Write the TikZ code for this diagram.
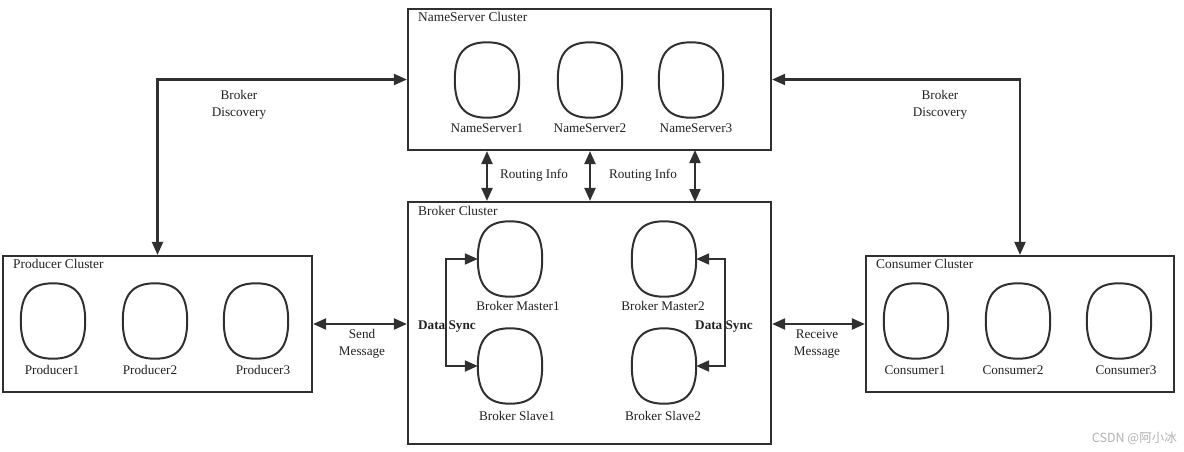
\documentclass[tikz,border=0pt]{standalone}
\usepackage{fontspec}
\setmainfont{Liberation Serif}
\newfontfamily\cjk{Noto Sans CJK SC}
\usetikzlibrary{arrows.meta,calc}
\definecolor{ln}{HTML}{303030}
\definecolor{tx}{HTML}{222222}
\begin{document}
\begin{tikzpicture}[x=1pt,y=-1pt,
  every node/.style={font=\fontsize{13.2}{15}\selectfont, text=tx, inner sep=0pt},
  cluster/.style={draw=ln, line width=2.2pt, fill=white},
  oval/.style={minimum width=64pt, minimum height=75pt},
  ovalline/.style={draw=ln, line width=2pt},
  conn/.style={draw=ln, line width=2.1pt, {Triangle[length=13pt,width=11pt]}-{Triangle[length=13pt,width=11pt]}},
  lbl/.style={align=center, font=\fontsize{13.2}{16.5}\selectfont},
  title/.style={anchor=west, font=\fontsize{13.4}{15}\selectfont}
]
\useasboundingbox (0,0) rectangle (1184,451);
\fill[white] (0,0) rectangle (1184,451);

% clusters
\node[cluster, minimum width=363pt, minimum height=141pt] (ns) at (589.5,79.5) {};
\node[cluster, minimum width=363pt, minimum height=242pt] (broker) at (589.5,323) {};
\node[cluster, minimum width=309pt, minimum height=136pt] (prod) at (157.5,324) {};
\node[cluster, minimum width=308pt, minimum height=136pt] (cons) at (1020,324) {};

\node[title] (nst) at (418,17) {NameServer Cluster};
\node[title] (brt) at (418,211) {Broker Cluster};
\node[title] (prt) at (13,264) {Producer Cluster};
\node[title] (cot) at (876,264) {Consumer Cluster};

% name servers
\node[oval] (ns1) at (487,80) {};
\node[oval] (ns2) at (590,80) {};
\node[oval] (ns3) at (691,80) {};
\node (ns1l) at (487,128) {NameServer1};
\node (ns2l) at (590,128) {NameServer2};
\node (ns3l) at (696,128) {NameServer3};

% brokers
\node[oval] (bm1) at (510,259) {};
\node[oval] (bs1) at (510,366) {};
\node[oval] (bm2) at (664,259) {};
\node[oval] (bs2) at (664,366) {};
\node (bm1l) at (518,306) {Broker Master1};
\node (bs1l) at (517,416) {Broker Slave1};
\node (bm2l) at (663,306) {Broker Master2};
\node (bs2l) at (663,416) {Broker Slave2};

% producers
\node[oval] (p1) at (53,321) {};
\node[oval] (p2) at (155,321) {};
\node[oval] (p3) at (256,321) {};
\node (p1l) at (52,370) {Producer1};
\node (p2l) at (150,370) {Producer2};
\node (p3l) at (263,370) {Producer3};

% consumers
\node[oval] (c1) at (916,321) {};
\node[oval] (c2) at (1018,321) {};
\node[oval] (c3) at (1119,321) {};
\node (c1l) at (915,370) {Consumer1};
\node (c2l) at (1013,370) {Consumer2};
\node (c3l) at (1126,370) {Consumer3};

% oval outlines (squircle)
\foreach \n in {ns1,ns2,ns3,bm1,bs1,bm2,bs2,p1,p2,p3,c1,c2,c3}{
  \draw[ovalline]
    (\n.north) .. controls ($(\n.north)!0.7!(\n.north east)$) and ($(\n.east)!0.7!(\n.north east)$) .. (\n.east)
    .. controls ($(\n.east)!0.7!(\n.south east)$) and ($(\n.south)!0.7!(\n.south east)$) .. (\n.south)
    .. controls ($(\n.south)!0.7!(\n.south west)$) and ($(\n.west)!0.7!(\n.south west)$) .. (\n.west)
    .. controls ($(\n.west)!0.7!(\n.north west)$) and ($(\n.north)!0.7!(\n.north west)$) .. (\n.north) -- cycle;
}

% routing info
\coordinate (r3a) at (695,150);
\coordinate (r3b) at (695,202);
\draw[conn] (ns.south -| ns1.center) -- (broker.north -| ns1.center);
\draw[conn] (ns.south -| ns2.center) -- (broker.north -| ns2.center);
\draw[conn] (r3a) -- (r3b);
\node (ri1) at (534,175) {Routing Info};
\node (ri2) at (643,175) {Routing Info};

% broker discovery
\draw[conn] (ns.west) -| (prod.north);
\draw[conn] (ns.east) -| (cons.north);
\node[lbl] (bd1) at (239,105) {Broker\\Discovery};
\node[lbl] (bd2) at (940,105) {Broker\\Discovery};

% send / receive
\draw[conn] (prod.east) -- (broker.west |- prod.east);
\draw[conn] (broker.east |- cons.west) -- (cons.west);
\node[lbl] (sm) at (362,344) {Send\\Message};
\node[lbl] (rm) at (817,344) {Receive\\Message};

% data sync
\draw[conn] (bm1.west) -- ++(-32,0) |- (bs1.west);
\draw[conn] (bm2.east) -- ++(29,0) |- (bs2.east);
\node[font=\fontsize{13.2}{15}\selectfont\bfseries] (ds1) at (447,327) {Data Sync};
\node[font=\fontsize{13.2}{15}\selectfont\bfseries] (ds2) at (724,327) {Data Sync};

% watermark
\node[anchor=east, text=black!30, font=\cjk\fontsize{12.5}{14}\selectfont] (wm) at (1177,438) {CSDN @阿小冰};
\end{tikzpicture}
\end{document}
